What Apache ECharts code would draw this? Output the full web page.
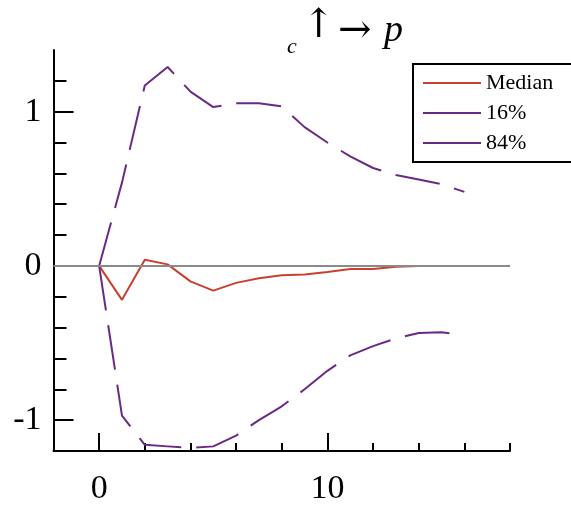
<!DOCTYPE html>
<html lang="en">
<head>
    <meta charset="UTF-8">
    <title>impulse response</title>
    <script src="https://cdn.jsdelivr.net/npm/echarts@6/dist/echarts.min.js"></script>
</head>
<body style="margin:0;background:#fff;">
    <div id="main" style="width:571px;height:506px;"></div>
    <script type="text/javascript">
        // horizon 0..16
        var steps = [0, 1, 2, 3, 4, 5, 6, 7, 8, 9, 10, 11, 12, 13, 14, 15, 16];
        var median = [0, -0.22, 0.04, 0.01, -0.10, -0.16, -0.11, -0.08, -0.06, -0.055, -0.04, -0.02, -0.02, -0.005, 0, 0, 0];
        var lower16 = [0, -0.97, -1.16, -1.17, -1.18, -1.17, -1.10, -1.00, -0.91, -0.80, -0.68, -0.58, -0.52, -0.47, -0.435, -0.43, -0.45];
        var upper84 = [0, 0.54, 1.17, 1.29, 1.13, 1.03, 1.055, 1.055, 1.035, 0.90, 0.80, 0.71, 0.635, 0.59, 0.56, 0.53, 0.48];
        var xLabels = [0, 10];
        var yLabels = [-1, 0, 1];
        var yMinorTicks = [-1.2, -1.0, -0.8, -0.6, -0.4, -0.2, 0, 0.2, 0.4, 0.6, 0.8, 1.0, 1.2];

        var pair = function (ys) {
            var res = [];
            for (var i = 0; i < steps.length; i++) {
                res.push([steps[i], ys[i]]);
            }
            return res;
        };

        var serif = "'Liberation Serif', 'DejaVu Serif', serif";
        var arrows = "'DejaVu Serif', 'DejaVu Sans', serif";
        var black = '#000';

        var myChart = echarts.init(document.getElementById('main'));
        var option = {
            backgroundColor: '#fff',
            animation: false,
            title: [
                { text: 'c', left: 287, top: 36, padding: 0,
                  textStyle: { fontFamily: serif, fontStyle: 'italic', fontWeight: 'normal', fontSize: 22, color: black } },
                { text: '↑', left: 302, top: 7, padding: 0,
                  textStyle: { fontFamily: arrows, fontWeight: 'normal', fontSize: 40, color: black } },
                { text: '→', left: 338, top: 12, padding: 0,
                  textStyle: { fontFamily: arrows, fontWeight: 'normal', fontSize: 40, color: black } },
                { text: 'p', left: 384, top: 12, padding: 0,
                  textStyle: { fontFamily: serif, fontStyle: 'italic', fontWeight: 'normal', fontSize: 38, color: black } }
            ],
            legend: {
                data: ['Median', '16%', '84%'],
                orient: 'vertical',
                left: 413,
                top: 64,
                padding: [7, 40, 7, 10],
                itemGap: 6,
                itemWidth: 58,
                itemHeight: 2,
                icon: 'rect',
                borderColor: black,
                borderWidth: 2,
                textStyle: { fontFamily: serif, fontSize: 22, lineHeight: 24, color: black }
            },
            grid: { left: 53.5, right: 61, top: 50, bottom: 53.5 },
            xAxis: [
                {
                    type: 'value', min: -2, max: 18, interval: 2,
                    axisLine: { onZero: false, lineStyle: { color: black, width: 2 } },
                    axisTick: { inside: true, length: 8, lineStyle: { color: black, width: 2 } },
                    axisLabel: { show: false },
                    splitLine: { show: false }
                },
                {
                    type: 'value', min: -2, max: 18, position: 'bottom',
                    axisLine: { show: false, onZero: false },
                    axisTick: { inside: true, length: 18, customValues: xLabels, lineStyle: { color: black, width: 2 } },
                    axisLabel: { customValues: xLabels, margin: 21, fontFamily: serif, fontSize: 34, color: black },
                    splitLine: { show: false }
                }
            ],
            yAxis: [
                {
                    type: 'value', min: -1.2, max: 1.4,
                    axisLine: { show: true, onZero: false, lineStyle: { color: black, width: 2 } },
                    axisTick: { show: true, inside: true, length: 13, customValues: yMinorTicks, lineStyle: { color: black, width: 2 } },
                    axisLabel: { show: false },
                    splitLine: { show: false }
                },
                {
                    type: 'value', min: -1.2, max: 1.4, position: 'left',
                    axisLine: { show: false, onZero: false },
                    axisTick: { show: true, inside: true, length: 20, customValues: yLabels, lineStyle: { color: black, width: 2 } },
                    axisLabel: { customValues: yLabels, margin: 12, fontFamily: serif, fontSize: 34, color: black },
                    splitLine: { show: false }
                }
            ],
            series: [
                {
                    name: 'Median', type: 'line', symbol: 'none',
                    data: pair(median),
                    lineStyle: { color: '#c8402f', width: 2 },
                    itemStyle: { color: '#c8402f' },
                    markLine: {
                        silent: true, symbol: 'none', label: { show: false },
                        lineStyle: { color: '#8a8a8a', width: 2, type: 'solid' },
                        data: [{ yAxis: 0 }]
                    },
                    z: 3
                },
                {
                    name: '16%', type: 'line', symbol: 'none',
                    data: pair(lower16),
                    lineStyle: { color: '#6a2a84', width: 2, type: [45, 15] },
                    itemStyle: { color: '#6a2a84' }
                },
                {
                    name: '84%', type: 'line', symbol: 'none',
                    data: pair(upper84),
                    lineStyle: { color: '#6a2a84', width: 2, type: [45, 15] },
                    itemStyle: { color: '#6a2a84' }
                }
            ]
        };
        myChart.setOption(option);
    </script>
</body>
</html>
